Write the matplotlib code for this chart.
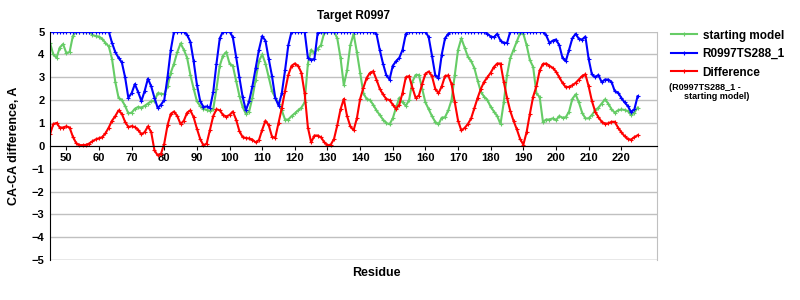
import numpy as np
import matplotlib.pyplot as plt

plt.rcParams['font.family'] = ['Liberation Sans', 'DejaVu Sans']
plt.rcParams['font.weight'] = 'bold'

# residue numbers 45..225
residues = np.arange(45, 226)

model = [5, 5, 5, 5, 5, 5, 5, 5, 5, 5,
         5, 5, 5, 5, 5, 5, 5, 5, 5, 4.5,
         4.1, 3.85, 3.65, 3.0, 2.1, 2.3, 2.7, 2.35, 1.96, 2.4,
         2.94, 2.6, 2.1, 1.65, 1.8, 2.0, 3.0, 4.2, 5, 5,
         5, 5, 4.85, 4.55, 3.7, 2.68, 1.96, 1.7, 1.72, 1.65,
         2.35, 3.6, 4.7, 5, 5, 5, 4.75, 3.9, 3.0, 2.15,
         1.55, 1.95, 2.6, 3.4, 4.2, 4.8, 4.6, 3.8, 3.05, 2.1,
         1.76, 2.3, 3.3, 4.4, 5, 5, 5, 5, 5, 3.85,
         3.77, 3.8, 4.95, 5, 5, 5, 5, 5, 5, 5,
         5, 5, 5, 5, 5, 5, 5, 5, 5, 5,
         4.9, 4.2, 3.6, 3.1, 2.9, 3.5, 3.7, 3.85, 4.2, 4.9,
         5, 5, 5, 5, 5, 5, 4.75, 3.95, 3.1, 2.95,
         3.99, 4.7, 4.9, 5, 5, 5, 5, 5, 5, 5,
         5, 5, 5, 5, 4.9, 4.78, 4.75, 4.9, 4.6, 4.5,
         4.5, 5, 5, 5, 5, 5, 5, 5, 5, 5,
         5, 5, 4.83, 4.5, 4.6, 4.65, 4.4, 3.84, 3.7, 4.2,
         4.7, 4.9, 4.68, 4.65, 4.78, 3.8, 3.12, 3.0, 3.1, 2.78,
         2.9, 2.9, 2.8, 2.39, 2.33, 2.1, 1.9, 1.74, 1.48, 1.59,
         2.17]

start = [4.5, 4.0, 3.85, 4.3, 4.45, 4.06, 4.1, 4.8, 5, 5,
         5, 5, 5, 4.85, 4.8, 4.78, 4.68, 4.5, 4.35, 3.8,
         2.8, 2.1, 2.0, 1.75, 1.42, 1.45, 1.62, 1.7, 1.67, 1.75,
         1.85, 1.95, 1.96, 2.3, 2.28, 2.25, 2.6, 3.2, 3.6, 4.1,
         4.48, 4.2, 3.85, 3.1, 2.5, 1.95, 1.74, 1.62, 1.57, 1.53,
         1.6, 2.5, 3.5, 3.95, 4.1, 3.6, 3.5, 2.85, 2.2, 1.7,
         1.4, 1.5, 2.1, 2.9, 3.7, 4.0, 3.6, 3.0, 2.4, 2.1,
         1.85, 1.55, 1.15, 1.15, 1.3, 1.42, 1.55, 1.67, 1.9, 3.6,
         4.2, 4.05, 4.25, 4.4, 4.95, 5, 5, 5, 4.7, 3.84,
         2.65, 3.3, 4.4, 4.9, 4.1, 3.2, 2.3, 2.05, 2.0, 1.8,
         1.55, 1.35, 1.15, 1.0, 0.94, 1.2, 1.67, 2.1, 1.9, 1.75,
         2.0, 2.8, 3.1, 3.1, 2.5, 1.9, 1.6, 1.3, 1.05, 0.94,
         1.23, 1.25, 1.55, 2.0, 3.1, 4.2, 4.7, 4.3, 3.9, 3.7,
         3.4, 2.85, 2.35, 2.15, 2.0, 1.7, 1.5, 1.3, 0.95, 1.9,
         3.1, 3.84, 4.2, 4.57, 4.93, 4.9, 4.4, 3.75, 3.45, 2.3,
         2.13, 1.05, 1.15, 1.15, 1.2, 1.12, 1.3, 1.23, 1.25, 1.5,
         2.05, 2.25, 1.9, 1.45, 1.2, 1.2, 1.35, 1.55, 1.67, 1.85,
         2.03, 1.85, 1.6, 1.45, 1.55, 1.59, 1.57, 1.52, 1.35, 1.45,
         1.67]

diff = [0.5, 0.95, 1.0, 0.8, 0.8, 0.85, 0.8, 0.4, 0.12, 0.03,
        0.03, 0.04, 0.1, 0.2, 0.28, 0.33, 0.38, 0.55, 0.8, 1.1,
        1.3, 1.55, 1.4, 1.05, 0.82, 0.86, 0.82, 0.7, 0.5, 0.6,
        0.85, 0.6, -0.2, -0.42, -0.35, 0.1, 0.9, 1.4, 1.5, 1.3,
        0.95, 1.1, 1.45, 1.55, 1.25, 0.75, 0.3, 0.02, 0.1, 0.7,
        1.3, 1.6, 1.55, 1.35, 1.28, 1.35, 1.5, 1.15, 0.65, 0.38,
        0.34, 0.32, 0.27, 0.15, 0.25, 0.7, 1.1, 0.9, 0.4, 0.35,
        1.0, 1.65, 2.4, 3.1, 3.5, 3.6, 3.5, 3.2, 2.3, 0.8,
        0.15, 0.45, 0.45, 0.37, 0.16, 0.02, 0.05, 0.3, 0.9, 1.6,
        2.05, 1.3, 0.85, 0.68, 1.2, 2.05, 2.54, 2.97, 3.19, 3.26,
        2.9, 2.5, 2.25, 2.05, 2.0, 1.8, 1.62, 1.8, 2.32, 3.0,
        3.05, 2.55, 2.1, 2.2, 2.7, 3.15, 3.25, 3.05, 2.5, 2.3,
        2.6, 3.05, 3.08, 2.7, 1.9, 1.1, 0.67, 0.78, 0.95, 1.2,
        1.65, 2.1, 2.5, 2.8, 3.0, 3.2, 3.45, 3.6, 3.6, 2.8,
        2.1, 1.52, 1.09, 0.72, 0.3, 0.05, 0.6, 1.4, 2.15, 2.6,
        3.3, 3.58, 3.6, 3.5, 3.41, 3.25, 3.0, 2.75, 2.56, 2.58,
        2.65, 2.75, 2.9, 3.05, 3.13, 2.6, 1.96, 1.5, 1.25, 1.05,
        0.97, 0.98, 1.05, 1.05, 0.8, 0.6, 0.42, 0.3, 0.27, 0.38,
        0.46]

x_ticks = np.arange(50, 230, 10)
y_ticks = np.arange(-5, 6, 1)

fig = plt.figure(figsize=(8, 3), dpi=100)
ax = fig.add_axes([0.0625, 0.133, 0.759, 0.762])

style = dict(lw=1.5, marker='+', ms=3, mew=0.8)
ax.plot(residues, start, color='#66cc66', label='starting model', **style)
ax.plot(residues, model, color='#0000ff', label='R0997TS288_1', **style)
ax.plot(residues, diff, color='#ff0000', label='Difference', **style)

ax.set_xlim(45, 231)
ax.set_ylim(-5, 5)
ax.set_yticks(y_ticks)
ax.set_xticks(x_ticks)
ax.yaxis.grid(True, color='#c0c0c0', lw=1)
ax.set_axisbelow(True)

ax.spines['bottom'].set_position(('data', 0))
ax.spines['bottom'].set_color('black')
ax.spines['left'].set_color('black')
ax.spines['top'].set_visible(False)
ax.spines['right'].set_color('#c0c0c0')
ax.axhline(-5, color='#c0c0c0', lw=1, zorder=0)

ax.tick_params(axis='x', direction='out', length=3, labelsize=8, pad=2)
ax.tick_params(axis='y', length=0, labelsize=8, pad=4)
ax.set_yticklabels([f'\u2212{-v}' if v < 0 else str(v) for v in y_ticks])

ax.set_title('Target R0997', fontsize=8.5, fontweight='bold', pad=9)
ax.set_ylabel('CA-CA difference, A', fontsize=9, fontweight='bold')
ax.yaxis.set_label_coords(-0.05, 0.5)
ax.set_xlabel('Residue', fontsize=9, fontweight='bold')
ax.xaxis.set_label_coords(0.537, -0.03)

leg = ax.legend(loc='upper left', bbox_to_anchor=(1.005, 1.055), frameon=False,
                fontsize=8.5, handlelength=2.2, handletextpad=0.5, labelspacing=0.55)
fig.text(0.836, 0.725, '(R0997TS288_1 -\n      starting model)', fontsize=6.5,
         fontweight='bold', va='top', ha='left', linespacing=1.1)

fig.savefig('out.png', dpi=100)
